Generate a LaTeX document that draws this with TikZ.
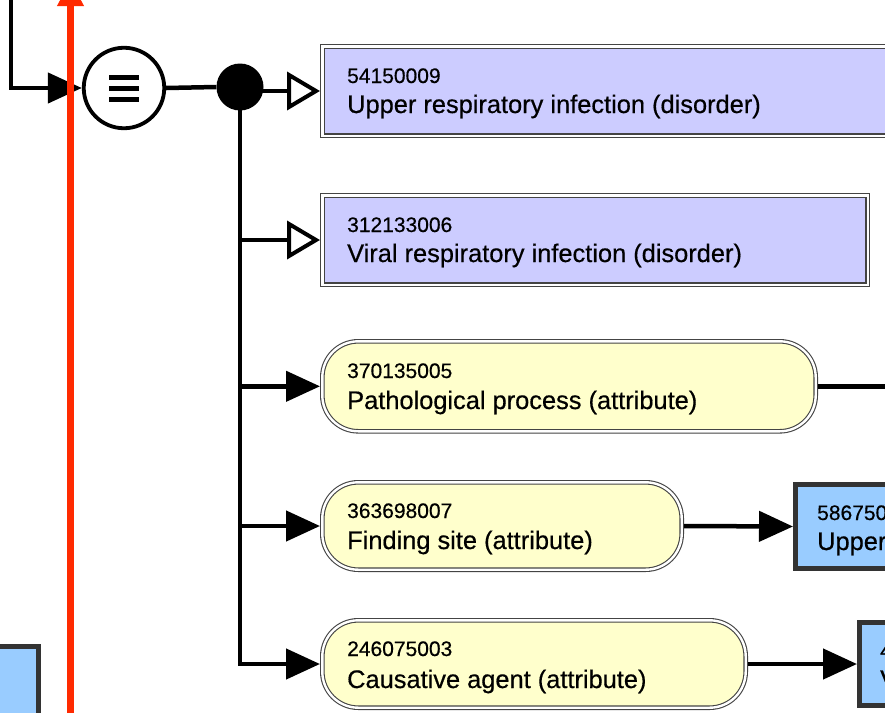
\documentclass[tikz,border=0pt]{standalone}
\usepackage{fontspec}
\setmainfont[FakeBold=0.5]{Liberation Sans}
\usetikzlibrary{arrows.meta,calc}
\definecolor{lav}{HTML}{CCCCFF}
\definecolor{attr}{HTML}{FFFFCC}
\definecolor{cblue}{HTML}{99CCFF}
\definecolor{redl}{HTML}{FF2A00}
\definecolor{edge}{HTML}{444444}
\definecolor{tedge}{HTML}{333333}
\tikzset{
  conc/.style={draw=edge, line width=1.1pt, double=white, double distance=2.4pt,
    fill=lav, rectangle, inner sep=0pt, outer sep=2.3pt, anchor=north west},
  attrbox/.style={conc, fill=attr, rounded corners=36pt},
  tgt/.style={draw=tedge, line width=5pt, fill=cblue, rectangle, inner sep=0pt,
    outer sep=2.5pt, anchor=north west},
  numtxt/.style={font=\fontsize{21}{21}\selectfont, anchor=base west, inner sep=0pt},
  labtxt/.style={font=\fontsize{25.4}{25.4}\selectfont, anchor=base west, inner sep=0pt},
  conn/.style={line width=4.5pt, black},
  isaarrow/.style={-{Triangle[open, fill=white, length=33pt, width=38pt, line width=4pt]}},
  attrarrow/.style={-{Triangle[length=34pt, width=30pt]}},
}
\begin{document}
\begin{tikzpicture}[x=1pt, y=-1pt]
\useasboundingbox (0,0) rectangle (885,712);
\clip (0,0) rectangle (885,712);
\fill[white] (0,0) rectangle (885,712);

% concept boxes
\node[conc, minimum width=600pt, minimum height=89.4pt] (b1) at (320,44) {};
\node[conc, minimum width=545.4pt, minimum height=89.4pt] (b2) at (320,193) {};
\node[attrbox, minimum width=493.4pt, minimum height=90pt] (b3) at (320,339) {};
\node[attrbox, minimum width=359.4pt, minimum height=87.4pt] (b4) at (320,480) {};
\node[attrbox, minimum width=423.4pt, minimum height=87.4pt] (b5) at (320,618) {};

% target boxes
\node[tgt, minimum width=200pt, minimum height=84pt] (t1) at (793,482) {};
\node[tgt, minimum width=200pt, minimum height=83pt] (t2) at (857,620) {};
\node[tgt, anchor=north east, minimum width=200pt, minimum height=150pt] (t0) at (41,644) {};

% texts
\node[numtxt] (b1n) at ($(b1.north west)+(27,39)$) {54150009};
\node[labtxt] (b1l) at ($(b1.north west)+(27,69)$) {Upper respiratory infection (disorder)};
\node[numtxt] (b2n) at ($(b2.north west)+(27,39)$) {312133006};
\node[labtxt] (b2l) at ($(b2.north west)+(27,69)$) {Viral respiratory infection (disorder)};
\node[numtxt] (b3n) at ($(b3.north west)+(27,39)$) {370135005};
\node[labtxt] (b3l) at ($(b3.north west)+(27,70)$) {Pathological process (attribute)};
\node[numtxt] (b4n) at ($(b4.north west)+(27,38)$) {363698007};
\node[labtxt] (b4l) at ($(b4.north west)+(27,69)$) {Finding site (attribute)};
\node[numtxt] (b5n) at ($(b5.north west)+(27,38)$) {246075003};
\node[labtxt] (b5l) at ($(b5.north west)+(27,70)$) {Causative agent (attribute)};
\node[numtxt] (t1n) at ($(t1.north west)+(24,38)$) {586750};
\node[labtxt] (t1l) at ($(t1.north west)+(24,68)$) {Upper};
\node[numtxt] (t2n) at ($(t2.north west)+(23,38)$) {4};
\node[labtxt] (t2l) at ($(t2.north west)+(23,68)$) {V};

% operator circle and conjunction dot
\node[circle, draw=black, line width=3.8pt, fill=white, inner sep=0pt, outer sep=1.9pt,
      minimum size=80.5pt] (eq) at (124,88) {};
\foreach \dy in {-10.5,0,11}
  \draw[line width=5pt] ($(eq)+(-15,\dy)$) -- ($(eq)+(15,\dy)$);
\node[circle, fill=black, inner sep=0pt, minimum size=47pt] (dot) at (240,87) {};

% connectors
\coordinate (inlet) at (11,-5);
\coordinate (rim) at (900,0);
\draw[conn, attrarrow] (inlet) |- (eq.west);
\draw[conn] (eq.east) -- (dot.west);
\draw[conn, isaarrow] (dot |- b1.west) -- (b1.west);
\draw[conn, attrarrow] (dot.center) |- (b5.west);
\draw[conn, isaarrow] (dot |- b2.west) -- (b2.west);
\draw[conn, attrarrow] (dot |- b3.west) -- (b3.west);
\draw[conn, attrarrow] (dot |- b4.west) -- (b4.west);
\draw[conn] (b3.east) -- (b3.east -| rim);
\draw[conn, attrarrow] (b4.east) -- (t1.west);
\draw[conn, attrarrow] (b5.east) -- (t2.west);

% red vertical arrow
\coordinate (redbot) at (70.5,720);
\coordinate (redtop) at (70.5,-20);
\draw[redl, line width=7pt, -{Triangle[length=26pt, width=25pt]}] (redbot) -- (redtop);
\end{tikzpicture}
\end{document}
